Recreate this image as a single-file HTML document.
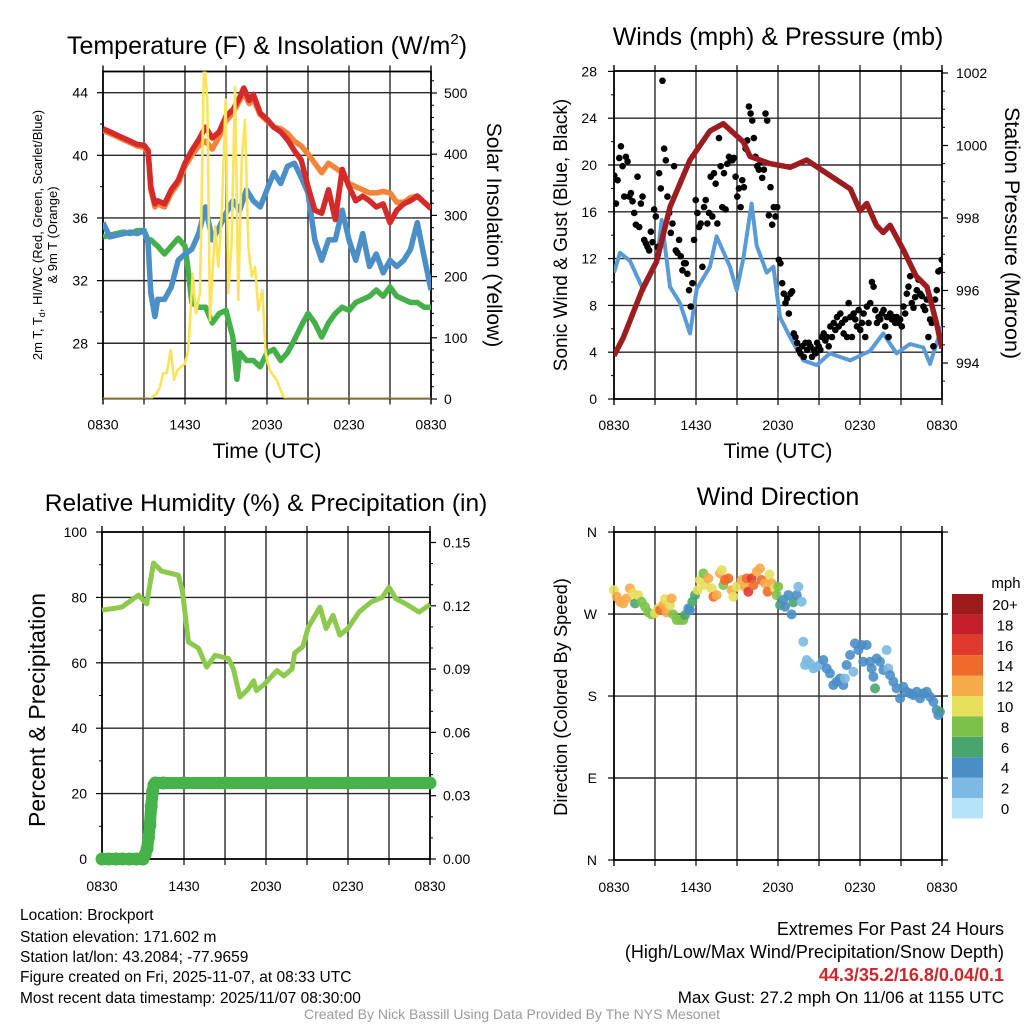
<!DOCTYPE html>
<html><head><meta charset="utf-8">
<style>
body{margin:0;background:#fff;width:1024px;height:1024px;overflow:hidden;font-family:"Liberation Sans",sans-serif}
svg{position:absolute;left:0;top:0}
text{font-family:"Liberation Sans",sans-serif;fill:#000}
</style></head>
<body>
<svg id="c" width="1024" height="1024">
<defs>
<clipPath id="cp1"><rect x="103" y="71.5" width="328" height="327"/></clipPath>
<clipPath id="cp2"><rect x="614" y="71" width="328" height="328"/></clipPath>
<clipPath id="cp3"><rect x="102" y="532" width="328" height="327"/></clipPath>
</defs>
<text x="267" y="54" font-size="25" text-anchor="middle">Temperature (F) &amp; Insolation (W/m<tspan dy="-10" font-size="15">2</tspan><tspan dy="10">)</tspan></text>
<text x="778" y="45" font-size="25" text-anchor="middle">Winds (mph) &amp; Pressure (mb)</text>
<text x="266" y="511" font-size="24.5" text-anchor="middle">Relative Humidity (%) &amp; Precipitation (in)</text>
<text x="778" y="505" font-size="25" text-anchor="middle">Wind Direction</text>
<text x="267" y="458" font-size="21" text-anchor="middle">Time (UTC)</text>
<text x="778" y="458" font-size="21" text-anchor="middle">Time (UTC)</text>
<text transform="translate(42,235) rotate(-90)" font-size="13" text-anchor="middle">2m T, T<tspan dy="3" font-size="9">d</tspan><tspan dy="-3">, HI/WC (Red, Green, Scarlet/Blue)</tspan></text>
<text transform="translate(57,235) rotate(-90)" font-size="13" text-anchor="middle">&amp; 9m T (Orange)</text>
<text transform="translate(487,235) rotate(90)" font-size="21" text-anchor="middle">Solar Insolation (Yellow)</text>
<text transform="translate(567,235) rotate(-90)" font-size="19" text-anchor="middle">Sonic Wind &amp; Gust (Blue, Black)</text>
<text transform="translate(1005,233) rotate(90)" font-size="21.5" text-anchor="middle">Station Pressure (Maroon)</text>
<text transform="translate(45,710) rotate(-90)" font-size="23" text-anchor="middle">Percent &amp; Precipitation</text>
<text transform="translate(567,697) rotate(-90)" font-size="18.3" text-anchor="middle">Direction (Colored By Speed)</text>
<g font-size="15.5">
<text x="20" y="920">Location: Brockport</text>
<text x="20" y="942">Station elevation: 171.602 m</text>
<text x="20" y="962">Station lat/lon: 43.2084; -77.9659</text>
<text x="20" y="982">Figure created on Fri, 2025-11-07, at 08:33 UTC</text>
<text x="20" y="1003">Most recent data timestamp: 2025/11/07 08:30:00</text>
</g>
<g font-size="18" text-anchor="end">
<text x="1004" y="935">Extremes For Past 24 Hours</text>
<text x="1004" y="958">(High/Low/Max Wind/Precipitation/Snow Depth)</text>
<text x="1004" y="981" font-weight="bold" style="fill:#d0262a">44.3/35.2/16.8/0.04/0.1</text>
<text x="1004" y="1003" font-size="17">Max Gust: 27.2 mph On 11/06 at 1155 UTC</text>
</g>
<text x="512" y="1019" font-size="14" text-anchor="middle" style="fill:#9a9a9a">Created By Nick Bassill Using Data Provided By The NYS Mesonet</text>
<text x="1006" y="588" font-size="15" text-anchor="middle">mph</text>
</svg>
<script>
// ---------- data ----------
const xTickLabels=["0830","1430","2030","0230","0830"];
const tempTicks=[44,40,36,32,28];
const solarTicks=[0,100,200,300,400,500];
const windTicks=[0,4,8,12,16,20,24,28];
const presTicks=[994,996,998,1000,1002];
const rhTicks=[0,20,40,60,80,100];
const precipTicks=[0.00,0.03,0.06,0.09,0.12,0.15];
const dirTicks=[360,270,180,90,0];
const dirTickLabels=["N","W","S","E","N"];
const speedBinLabels=["0","2","4","6","8","10","12","14","16","18","20+"];

const redTimes=[0,0.5,1,1.5,2,2.5,3,3.3,3.5,3.8,4,4.5,5,5.5,6,6.5,7,7.5,8,8.5,9,9.5,10,10.3,10.7,11,11.5,12,12.5,13,13.5,14,14.5,15,15.5,16,16.5,17,17.5,18,18.5,19,19.5,20,20.5,21,21.5,22,22.5,23,23.5,24];
const redTemp=[41.7,41.5,41.3,41.1,40.9,40.7,40.65,40.3,38.0,36.9,37.1,36.9,37.8,38.4,39.5,40.3,41.0,41.8,41.1,41.5,42.5,42.9,43.7,44.3,43.5,43.9,42.7,42.3,41.8,41.5,41.0,40.3,39.7,38.0,36.5,36.3,37.8,35.9,39.1,38.0,37.1,37.4,37.1,36.7,36.9,35.7,36.5,36.9,37.1,37.4,37.0,36.6];
const orangeTemp=[41.6,41.4,41.2,41.0,40.8,40.6,40.5,40.2,37.8,36.7,36.9,36.7,37.6,38.2,39.3,40.0,40.6,40.9,40.4,41.2,42.2,42.7,43.5,44.0,43.3,43.6,42.6,42.2,41.8,41.7,41.4,40.9,40.6,40.1,39.5,38.9,39.5,39.2,38.9,38.2,38.0,37.8,37.6,37.6,37.7,37.6,37.0,37.0,37.3,37.4,37.0,36.6];
const blueTimes=[0,0.5,1,1.5,2,2.5,3,3.3,3.5,3.8,4,4.5,5,5.5,6,6.5,7,7.5,8,8.5,9,9.5,10,10.5,11,11.5,12,12.5,13,13.5,14,14.5,15,15.5,16,16.5,17,17.5,18,18.5,19,19.5,20,20.5,21,21.5,22,22.5,23,23.5,24];
const blueTemp=[35.7,34.8,34.9,35.0,35.1,35.0,35.2,34.4,31.2,29.7,30.8,30.8,31.6,33.3,33.7,34.0,35.0,36.7,34.6,35.4,36.3,37.1,36.5,37.8,37.1,36.7,37.8,38.9,38.2,39.3,39.5,38.6,37.6,34.6,33.3,34.6,34.6,36.5,34.6,33.3,35.0,32.9,33.7,32.5,33.3,32.9,33.3,34.0,35.7,33.5,31.4];
const greenTimes=[0,0.5,1,1.5,2,2.5,3,3.3,3.5,4,4.5,5,5.5,6,6.2,6.5,7,7.5,8,8.5,9,9.5,9.8,10,10.5,11,11.5,12,12.5,13,13.5,14,14.5,15,15.5,16,16.5,17,17.5,18,18.5,19,19.5,20,20.5,21,21.5,22,22.5,23,23.5,24];
const greenTemp=[34.8,34.9,35.0,35.1,35.0,35.2,35.2,34.6,34.6,34.2,33.7,34.2,34.7,34.2,32.9,30.6,30.3,30.3,29.3,29.9,30.1,28.4,25.7,27.4,26.9,26.9,26.5,27.4,27.6,26.9,27.4,28.2,29.1,29.9,29.3,28.4,29.3,29.9,30.3,30.1,30.6,30.8,31.0,31.4,31.0,31.6,31.0,30.8,30.6,30.6,30.3,30.3];
const solarTimes=[0,3.2,3.44,3.93,4.17,4.4,4.66,4.95,5.2,5.44,6.0,6.24,6.56,6.8,7.1,7.4,7.63,7.83,8.2,8.44,8.68,8.98,9.17,9.41,9.66,9.9,10.15,10.39,10.63,10.88,11.12,11.37,11.66,11.9,12.2,12.7,13.2,13.44,24];
const solarValues=[0,0,0,9,20,42,42,80,31,47,58,80,205,140,173,560,489,129,282,216,298,489,173,254,510,162,390,456,249,200,216,145,178,75,47,31,4,0,0];

const windTimes=[0,0.44,1.17,2.15,3.12,3.49,4.1,4.83,5.56,6.05,7.02,7.51,8.49,8.98,9.46,10.07,10.44,11.17,11.66,12.15,12.88,13.85,14.83,15.8,17.27,18.73,19.7,20.68,21.66,22.63,23.12,24];
const windSpeed=[10.8,12.5,11.8,9.3,11.6,15.3,9.6,8.2,5.6,9.4,11.3,13.9,11.3,9.3,12,16.7,13.1,10.8,11.3,7.0,5.3,3.3,2.9,3.9,3.3,4.1,5.6,3.9,4.7,4.4,3.0,6.2];
const gustValues=[19.1,16.7,18.7,20.6,21.6,19.9,17.3,20.7,20.3,17.3,17.6,16.9,15.9,14.9,19.0,14.7,16.7,17.3,13.6,13.3,13.0,12.7,14.3,13.4,16.2,15.6,13.0,19.3,18.0,27.2,21.4,20.4,17.3,15.9,14.2,15.0,19.9,12.7,12.5,13.6,12.2,11.0,11.6,11.6,10.7,9.3,7.9,9.9,13.6,17.0,15.9,14.7,15.0,11.3,16.4,17.0,15.0,15.9,19.0,15.6,19.3,18.4,15.0,22.3,19.9,16.4,19.3,16.2,20.1,20.7,20.4,20.4,20.6,19.0,17.3,18.0,16.4,18.7,18.1,21.4,22.1,25.0,24.4,23.8,22.3,20.7,19.9,19.6,20.3,18.9,19.6,24.4,23.8,15.7,18.1,14.9,16.4,15.6,16.4,11.9,11.6,9.9,9.0,8.2,8.6,7.3,9.0,9.2,5.6,5.3,4.8,4.2,3.9,4.5,3.6,4.8,4.2,4.8,4.5,3.6,4.2,3.9,4.8,4.5,4.2,5.3,5.6,5.0,5.3,4.5,6.2,5.3,6.5,5.9,7.0,6.2,7.3,6.5,5.6,6.8,5.3,8.2,7.0,5.3,7.3,6.8,6.2,7.6,5.9,6.5,7.3,5.3,7.9,6.5,8.2,10.0,9.6,7.6,6.5,7.0,6.8,7.3,7.6,6.2,7.0,5.3,7.3,6.8,7.0,6.5,7.0,6.5,6.8,6.2,7.9,7.3,9.0,9.6,10.5,8.2,7.8,8.7,9.3,10.2,9.0,8.8,7.9,7.6,8.5,5.3,6.8,6.5,4.5,8.5,9.3,10.9,11.0,11.9];
const presTimes=[0,0.68,2.15,3.12,4.1,5.56,7.02,8.0,9.46,9.95,11.4,12.9,14.1,15.3,17.3,18.0,18.5,19.2,19.7,20.2,21.2,22.1,22.9,23.6,24];
const presValues=[994.2,994.7,996.1,996.8,998.3,999.6,1000.4,1000.6,1000.1,999.7,999.5,999.4,999.6,999.3,998.8,998.2,998.4,997.8,997.6,997.8,997.1,996.4,996.1,995.1,994.4];

const rhTimes=[0,1.44,2.66,3.27,3.76,4.37,5.59,5.88,6.32,7.05,7.66,8.27,9.25,9.61,10.1,10.7,11.1,11.3,11.9,12.8,13.3,13.9,14.1,14.7,15.1,15.95,16.4,16.9,17.4,18.0,18.8,19.7,20.5,21.0,21.5,22.4,23.2,23.9,24];
const rhValues=[76.1,77,80.7,78,90.5,88,86.8,82,66.4,64.5,58.7,62.3,61.3,58.2,49.5,52,54.5,51.5,53.5,57.6,56,58.1,63,65,71,77,70.5,74.5,68.5,70.5,75.5,78.6,80,83.1,79.6,77.6,75.5,77.5,77.8];
const precipTimes=[0,0.5,1,1.5,2,2.5,3,3.15,3.3,3.4,3.5,3.6,3.7,3.8,3.9,4.5,6,9,12,15,18,21,24];
const precipValues=[0,0,0,0,0,0,0,0.002,0.005,0.01,0.016,0.025,0.032,0.035,0.036,0.036,0.036,0.036,0.036,0.036,0.036,0.036,0.036];

const dirTimes=[0,0.2,0.44,0.68,0.93,1.17,1.41,1.54,1.78,2.02,2.27,2.51,2.76,3.0,3.24,3.37,3.61,3.73,3.85,4.1,4.22,4.34,4.59,4.83,5.07,5.2,5.44,5.56,5.73,5.93,6.12,6.29,6.54,6.66,6.9,7.15,7.27,7.51,7.76,7.88,8.0,8.12,8.37,8.61,8.73,8.98,9.34,9.59,9.71,9.83,10.07,10.2,10.44,10.68,10.8,11.05,11.24,11.37,11.54,11.78,11.9,12.02,12.15,12.39,12.51,12.76,13.0,13.12,13.37,13.49,13.73,13.85,13.98,14.1,14.34,14.59,14.83,15.07,15.32,15.56,15.8,16.05,16.29,16.54,16.78,16.9,17.02,17.27,17.51,17.63,17.88,18.12,18.24,18.49,18.73,18.85,18.98,19.1,19.22,19.46,19.71,19.95,20.07,20.2,20.44,20.68,20.93,21.17,21.41,21.66,21.9,22.15,22.39,22.63,22.88,23.12,23.37,23.61,23.85,23.73];
const dirValues=[296.3,289,283.5,281.7,287.2,298.2,292.7,281.7,290.8,283.5,278,271.8,269.6,270.7,276.2,274.4,279.9,286.5,271.8,279.9,287.2,269.6,263.4,263.4,263.4,268.9,276.2,274.4,283.5,290.8,296.3,307.3,314.6,301.8,309.1,298.2,289,290.8,314.6,318.3,301.8,307.3,309.1,296.3,289,300,307.3,300,309.1,294.5,309.1,301.8,316.5,320.1,307.3,303.7,294.5,313.5,303.7,298.2,290.8,300,279.9,285.4,278,290.8,269.6,282.8,290.8,300,283.5,239.6,214,219.5,215.8,210.3,212.2,214,219.5,210.3,204.8,192,195.7,199.3,192,199.3,214,225,206.7,237.8,230.5,236,217.6,236,217.6,210.3,201.2,188.4,221.2,217.6,208.5,230.5,210.3,203,195.7,188.4,177.4,190.2,184.7,182.9,181,184.7,177.4,182.9,184.7,179.2,173.7,164.6,162.7,159];
const dirSpeed=[11,13,13,12,12,12,10,7,10,9,8,8,9,10,10,15,12,10,13,10,12,9,8,8,8,7,4,5,7,6,10,10,8,11,12,11,14,13,12,10,9,14,15,12,11,10,12,13,14,16,17,14,13,12,15,12,14,10,12,10,8,8,6,5,4,4,4,6,4,3,2,2,2,2,2,2,2,3,4,4,4,4,4,4,4,3,4,4,2,4,4,4,4,4,4,4,4,6,4,4,4,2,2,4,4,4,4,4,4,4,4,4,4,4,4,4,4,4,6,4];
const speedColors=['#b4e2f8','#7cb9e3','#4a8ec6','#4aa56d','#7cc24a','#e6df5b','#f7aa48','#f06a2b','#e2392d','#c41f2a','#9a1a1e'];

// ---------- helpers ----------
const NS='http://www.w3.org/2000/svg';
const svg=document.getElementById('c');
function mk(tag,attrs,parent){const e=document.createElementNS(NS,tag);for(const k in attrs)e.setAttribute(k,attrs[k]);(parent||svg).appendChild(e);return e;}
const P1={x0:103,x1:431,y0:71.5,y1:398.5};
const P2={x0:614,x1:942,y0:71,y1:399};
const P3={x0:102,x1:430,y0:532,y1:859};
const P4={x0:614,x1:942,y0:532,y1:860};
function xT(p,h){return p.x0+(p.x1-p.x0)*h/24;}
const yTemp=t=>92.7+(44-t)*15.66;
const ySol=v=>399-v*0.612;
const yWind=s=>399-s*11.7;
const yPres=v=>363-(v-994)*36.25;
const yRH=r=>859-r*3.27;
const yPr=v=>859-v*2110;
const yDir=d=>860-d*0.911;
function pathD(p,times,vals,yf){return times.map((t,i)=>(i?'L':'M')+xT(p,t).toFixed(1)+','+yf(vals[i]).toFixed(1)).join(' ');}

function frame(p,name,leftMaj,leftMin,rightMaj,rightMin){
  const g=mk('g',{});
  
  
  for(let h=3;h<24;h+=3){
    const l=mk('line',{x1:xT(p,h),x2:xT(p,h),y1:p.y0-6,y2:p.y1+6,stroke:'#2a2a2a','stroke-width':1.4},g);
    
    
  }
  for(const y of [p.y0-6,p.y1]){
    for(const h of [0,24]){
      const l=mk('line',{x1:xT(p,h),x2:xT(p,h),y1:y,y2:y+6,stroke:'#000','stroke-width':1.4},g);
      
      
    }
  }
  leftMaj.forEach(y=>{
    if(y>p.y0+1&&y<p.y1-1){
      const l=mk('line',{x1:p.x0,x2:p.x1,y1:y,y2:y,stroke:'#2a2a2a','stroke-width':1.4},g);
      
      
    }
    const t=mk('line',{x1:p.x0-6,x2:p.x0,y1:y,y2:y,stroke:'#000','stroke-width':1.2},g);
    
    
  });
  leftMin.forEach(y=>{
    const t=mk('line',{x1:p.x0-3,x2:p.x0,y1:y,y2:y,stroke:'#000','stroke-width':1},g);
    
    
  });
  rightMaj.forEach(y=>{
    const t=mk('line',{x1:p.x1,x2:p.x1+6,y1:y,y2:y,stroke:'#000','stroke-width':1.2},g);
    
    
  });
  rightMin.forEach(y=>{
    const t=mk('line',{x1:p.x1,x2:p.x1+3,y1:y,y2:y,stroke:'#000','stroke-width':1},g);
    
    
  });
  const r=mk('rect',{x:p.x0,y:p.y0,width:p.x1-p.x0,height:p.y1-p.y0,fill:'none',stroke:'#000','stroke-width':1.8},g);
  
  
  xTickLabels.forEach((s,i)=>{
    const t=mk('text',{x:xT(p,i*6),y:p.y1+34-(p.y1>800?2:3),'font-size':14,'text-anchor':'middle'},g);
    t.textContent=s;
    
    
  });
  return g;
}
function labels(list,fmt,yf,x,anchor){
  list.forEach(v=>{
    const t=mk('text',{x:x,y:yf(v)+5,'font-size':14,'text-anchor':anchor});
    t.textContent=fmt(v);
    
    
  });
}
const rng=(a,b,s)=>{const r=[];for(let v=a;v<=b+1e-9;v+=s)r.push(+v.toFixed(4));return r;};

// ---------- panel 1 ----------
frame(P1,'temperature',tempTicks.map(yTemp),rng(26,42,4).map(yTemp),solarTicks.map(ySol),rng(20,520,20).filter(v=>v%100).map(ySol));
labels(tempTicks,v=>v,yTemp,88,'end');
labels(solarTicks,v=>v,ySol,444,'start');
const g1=mk('g',{'clip-path':'url(#cp1)'});


const sGreen=mk('path',{d:pathD(P1,greenTimes,greenTemp,yTemp),fill:'none',stroke:'#45b04a','stroke-width':5.5,'stroke-linejoin':'round'},g1);


const sBlue=mk('path',{d:pathD(P1,blueTimes,blueTemp,yTemp),fill:'none',stroke:'#4a8fc7','stroke-width':5.5,'stroke-linejoin':'round'},g1);


const sOrange=mk('path',{d:pathD(P1,redTimes,orangeTemp,yTemp),fill:'none',stroke:'#f3843a','stroke-width':5.5,'stroke-linejoin':'round'},g1);


const sRed=mk('path',{d:pathD(P1,redTimes,redTemp,yTemp),fill:'none',stroke:'#d52a2a','stroke-width':5.5,'stroke-linejoin':'round'},g1);


const sSol=mk('path',{d:pathD(P1,solarTimes,solarValues,ySol),fill:'none',stroke:'#fce35c','stroke-width':2.6,'stroke-linejoin':'round'},g1);



// ---------- panel 2 ----------
frame(P2,'winds',windTicks.map(yWind),rng(2,26,4).map(yWind),presTicks.map(yPres),rng(993.5,1002,0.5).filter(v=>v%2).map(yPres));
labels(windTicks,v=>v,yWind,597,'end');
labels(presTicks,v=>v,yPres,956,'start');
const g2=mk('g',{'clip-path':'url(#cp2)'});


const sWind=mk('path',{d:pathD(P2,windTimes,windSpeed,yWind),fill:'none',stroke:'#5a9bd5','stroke-width':4,'stroke-linejoin':'round'},g2);


gustValues.forEach((v,i)=>{
  const h=0.02+23.96*i/(gustValues.length-1);
  const c=mk('circle',{cx:xT(P2,h),cy:yWind(v),r:3.3,fill:'#000'},g2);
  
  
});
const sPres=mk('path',{d:pathD(P2,presTimes,presValues,yPres),fill:'none',stroke:'#9c1c20','stroke-width':5.5,'stroke-linejoin':'round'},g2);



// ---------- panel 3 ----------
frame(P3,'humidity',rhTicks.map(yRH),rng(10,90,20).map(yRH),precipTicks.map(yPr),rng(0.01,0.15,0.01).filter((v,i)=>(i+1)%3).map(yPr));
labels(rhTicks,v=>v,yRH,87,'end');
labels(precipTicks,v=>v.toFixed(2),yPr,443,'start');
const g3=mk('g',{});


const sRH=mk('path',{d:pathD(P3,rhTimes,rhValues,yRH),fill:'none',stroke:'#8dc94c','stroke-width':5,'stroke-linejoin':'round'},g3);


const sPr=mk('path',{d:pathD(P3,precipTimes,precipValues,yPr),fill:'none',stroke:'#45b24a','stroke-width':12,'stroke-linejoin':'round','stroke-linecap':'round'},g3);


precipValues.forEach((v,i)=>{
  const c=mk('circle',{cx:xT(P3,precipTimes[i]),cy:yPr(v),r:6.5,fill:'#45b24a'},g3);
  
  
});

// ---------- panel 4 ----------
frame(P4,'wind-direction',dirTicks.map(yDir),[],dirTicks.map(yDir),[]);
dirTicks.forEach((d,i)=>{
  const t=mk('text',{x:597,y:yDir(d)+5,'font-size':14,'text-anchor':'end'});
  t.textContent=dirTickLabels[i];
  
  
});
dirValues.forEach((d,i)=>{
  const bin=Math.min(10,Math.floor(dirSpeed[i]/2));
  const c=mk('circle',{cx:xT(P4,dirTimes[i]),cy:yDir(d),r:5,fill:speedColors[bin],'fill-opacity':0.9});
  
  
});
// colorbar
speedBinLabels.forEach((s,i)=>{
  const y=594+(10-i)*20.4;
  const r=mk('rect',{x:952,y:y,width:31,height:20.4,fill:speedColors[i]});
  
  
  const t=mk('text',{x:1005,y:y+16,'font-size':15,'text-anchor':'middle'});
  t.textContent=s;
  
  
});
</script>
</body></html>
